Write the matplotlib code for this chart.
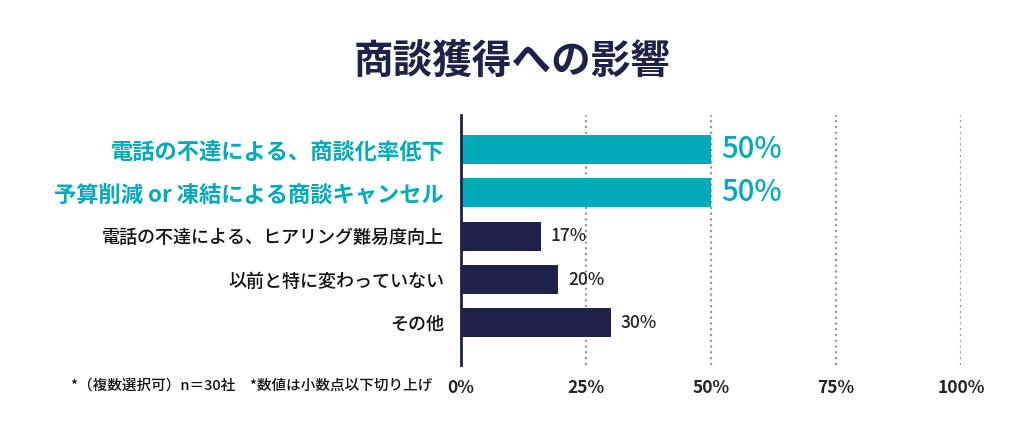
import matplotlib
matplotlib.use('Agg')
import matplotlib.pyplot as plt

plt.rcParams['font.family'] = ['Noto Sans CJK JP', 'DejaVu Sans']

# data
categories = [
    '電話の不達による、商談化率低下',
    '予算削減 or 凍結による商談キャンセル',
    '電話の不達による、ヒアリング難易度向上',
    '以前と特に変わっていない',
    'その他',
]
values = [50, 50, 16, 19.5, 30]
value_labels = ['50%', '50%', '17%', '20%', '30%']
highlight = [True, True, False, False, False]
xticks = [0, 25, 50, 75, 100]
xtick_labels = ['0%', '25%', '50%', '75%', '100%']
title = '商談獲得への影響'
footnote = '*（複数選択可）n＝30社　*数値は小数点以下切り上げ'

TEAL = '#00abba'
NAVY = '#1e2149'

fig = plt.figure(figsize=(10.24, 4.45), dpi=100)
ax = fig.add_axes([0.450, 0.180, 0.4885, 0.562])

ypos = list(range(len(categories)))
colors = [TEAL if h else NAVY for h in highlight]
ax.barh(ypos, values, height=0.67, color=colors, zorder=3)

# value labels
for y, v, txt, h in zip(ypos, values, value_labels, highlight):
    if h:
        ax.text(v + 2, y, txt, va='center', ha='left', color=TEAL,
                fontsize=21, fontweight='medium')
    else:
        ax.text(v + 2, y, txt, va='center', ha='left', color='#222222',
                fontsize=12.5, fontweight='medium')

ax.set_xlim(0, 100)
ax.set_ylim(4.97, -0.8)

# category labels
ax.set_yticks(ypos)
ax.set_yticklabels(categories)
for lab, h in zip(ax.get_yticklabels(), highlight):
    if h:
        lab.set_color(TEAL)
        lab.set_fontweight('bold')
        lab.set_fontsize(16)
    else:
        lab.set_color('#111111')
        lab.set_fontweight('medium')
        lab.set_fontsize(13)
ax.tick_params(axis='y', length=0, pad=12)

ax.set_xticks(xticks)
ax.set_xticklabels(xtick_labels, fontsize=12.5, fontweight='bold', color='#222222')
ax.tick_params(axis='x', length=0, pad=10)

# dotted gridlines
for x in xticks[1:]:
    ax.axvline(x, color='#999999', linestyle=(0, (1, 1.6)), linewidth=1.6, zorder=1)

for s in ['top', 'right', 'bottom']:
    ax.spines[s].set_visible(False)
ax.spines['left'].set_color(NAVY)
ax.spines['left'].set_linewidth(2)
ax.spines['left'].set_zorder(4)

fig.text(0.5, 0.86, title, ha='center', va='center', fontsize=28.5,
         fontweight='bold', color=NAVY)
fig.text(0.422, 0.133, footnote, ha='right', va='center', fontsize=10.5,
         fontweight='medium', color='#111111')

fig.savefig('out.png', dpi=100, facecolor='white')
